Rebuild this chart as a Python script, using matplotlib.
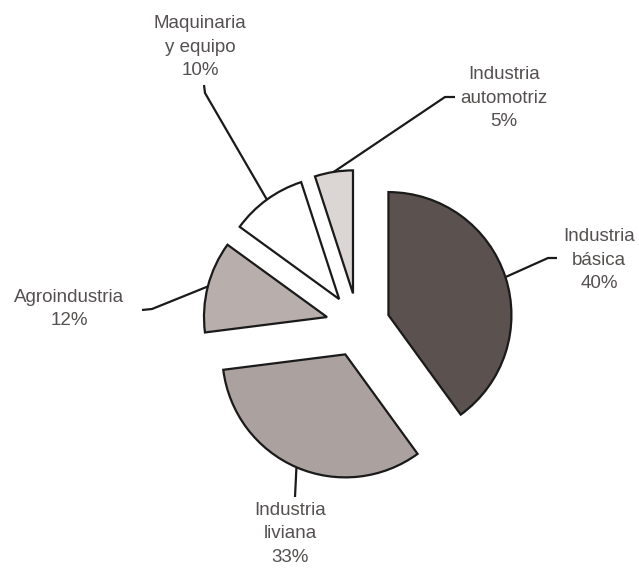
import matplotlib
matplotlib.use('Agg')
import matplotlib.pyplot as plt
import numpy as np

# ---- data ----
categories = ['Industria\nbásica', 'Industria\nliviana', 'Agroindustria',
              'Maquinaria\ny equipo', 'Industria\nautomotriz']
values = [40, 33, 12, 10, 5]
pct_labels = ['40%', '33%', '12%', '10%', '5%']
colors = ['#5b524f', '#aba2a0', '#b8afad', '#ffffff', '#dbd6d3']

# ---- layout (image pixel coords, y down) ----
W, H = 639, 569
R = 123
CX, CY = 358, 325
EXPLODE = 32
label_pos = [(599, 260), (290, 534), (69, 309), (200, 47), (504, 98)]
leader_pts = [
    [(548, 258), (557, 258)],
    [(295, 497)],
    [(152, 309), (142, 310)],
    [(205, 93), (204, 85)],
    [(445, 97), (455, 97)],
]

plt.rcParams['font.family'] = ['Liberation Sans', 'DejaVu Sans']

fig = plt.figure(figsize=(W / 100, H / 100), dpi=100)
ax = fig.add_axes([0, 0, 1, 1])

wedges, _ = ax.pie(values, colors=colors, startangle=90, counterclock=False,
                   explode=[EXPLODE] * len(values), radius=R,
                   center=(CX, H - CY),
                   wedgeprops=dict(edgecolor='#1a1a1a', linewidth=1.6,
                                   joinstyle='miter'))
ax.set_xlim(0, W)
ax.set_ylim(0, H)
ax.set_aspect('equal')
ax.axis('off')

for w, cat, pct, (lx, ly), pts in zip(wedges, categories, pct_labels,
                                      label_pos, leader_pts):
    th = np.deg2rad(0.5 * (w.theta1 + w.theta2))
    ax0 = w.center[0] + w.r * np.cos(th)
    ay0 = w.center[1] + w.r * np.sin(th)
    xs = [ax0] + [p[0] for p in pts]
    ys = [ay0] + [H - p[1] for p in pts]
    ax.plot(xs, ys, color='#1a1a1a', lw=1.6, solid_capstyle='butt')
    ax.text(lx, H - ly, cat + '\n' + pct, ha='center', va='center',
            fontsize=13.5, color='#555050', linespacing=1.5)

fig.savefig('out.png', dpi=100)
